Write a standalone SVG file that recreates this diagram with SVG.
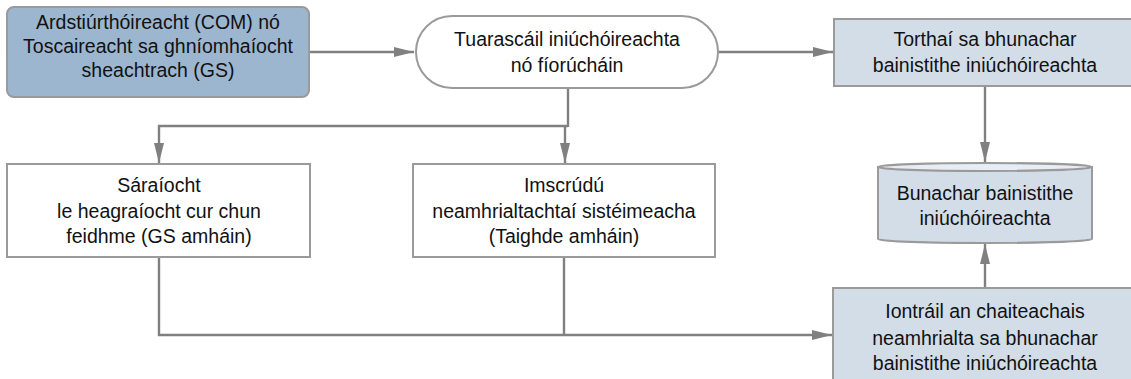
<svg xmlns="http://www.w3.org/2000/svg" width="1131" height="379" viewBox="0 0 1131 379">
<style>
text{font-family:"Liberation Sans",Arial,sans-serif;font-size:19.5px;fill:#111;text-anchor:middle}
.box{stroke:#9a9a9a;stroke-width:2}
.ln{fill:none;stroke:#808080;stroke-width:2.4}
</style>
<defs>
<marker id="ah" viewBox="0 0 20 10" refX="20" refY="5" markerWidth="20" markerHeight="10" markerUnits="userSpaceOnUse" orient="auto">
<path d="M0,0 L20,5 L0,10 Z" fill="#808080"/>
</marker>
</defs>
<rect width="1131" height="379" fill="#fff"/>
<g id="connectors">
<path class="ln" d="M309,52 H414" marker-end="url(#ah)"/>
<path class="ln" d="M718,52 H833" marker-end="url(#ah)"/>
<path class="ln" d="M568,88 V127"/>
<path class="ln" d="M568,126 H159 V163" marker-end="url(#ah)"/>
<path class="ln" d="M565,126 V163" marker-end="url(#ah)"/>
<path class="ln" d="M985,86 V162" marker-end="url(#ah)"/>
<path class="ln" d="M159,257 V335 H832" marker-end="url(#ah)"/>
<path class="ln" d="M564,257 V335"/>
<path class="ln" d="M985,288 V244" marker-end="url(#ah)"/>
</g>
<g id="n-com">
<rect class="box" x="7" y="7" width="302" height="90" rx="7" fill="#9db6cf"/>
<text x="158" y="29">Ardstiúrthóireacht (COM) nó</text>
<text x="158" y="53">Toscaireacht sa ghníomhaíocht</text>
<text x="158" y="77">sheachtrach (GS)</text>
</g>
<g id="n-report">
<rect class="box" x="416" y="16" width="302" height="72" rx="36" fill="#fff"/>
<text x="567" y="46">Tuarascáil iniúchóireachta</text>
<text x="567" y="72">nó fíorúcháin</text>
</g>
<g id="n-results">
<rect class="box" x="834" y="19" width="306" height="67" fill="#d3dde8"/>
<text x="985" y="46">Torthaí sa bhunachar</text>
<text x="985" y="72">bainistithe iniúchóireachta</text>
</g>
<g id="n-breach">
<rect class="box" x="7" y="164" width="303" height="93" fill="#fff"/>
<text x="159" y="192">Sáraíocht</text>
<text x="159" y="218">le heagraíocht cur chun</text>
<text x="159" y="243">feidhme (GS amháin)</text>
</g>
<g id="n-investigate">
<rect class="box" x="413" y="164" width="302" height="93" fill="#fff"/>
<text x="564" y="192">Imscrúdú</text>
<text x="564" y="218">neamhrialtachtaí sistéimeacha</text>
<text x="564" y="243">(Taighde amháin)</text>
</g>
<g id="n-db">
<path class="box" d="M878,167 V239 A107,4 0 0 0 1092,239 V167 Z" fill="#d3dde8"/>
<ellipse class="box" cx="985" cy="167" rx="107" ry="4" fill="#e6edf4"/>
<text x="985" y="200">Bunachar bainistithe</text>
<text x="985" y="225">iniúchóireachta</text>
</g>
<g id="n-entry">
<rect class="box" x="833" y="288" width="310" height="100" fill="#d3dde8"/>
<text x="985" y="318">Iontráil an chaiteachais</text>
<text x="985" y="345">neamhrialta sa bhunachar</text>
<text x="985" y="370">bainistithe iniúchóireachta</text>
</g>
</svg>
